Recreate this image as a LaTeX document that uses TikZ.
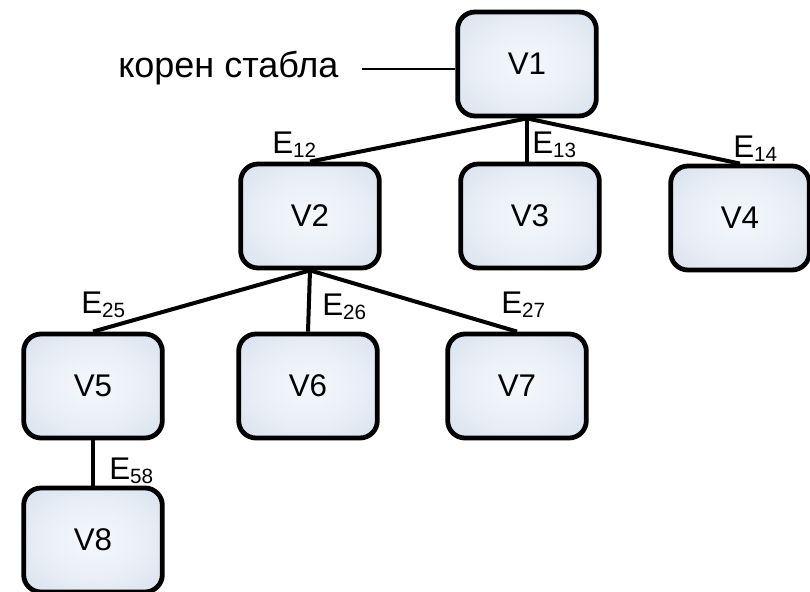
\documentclass[tikz,border=0pt]{standalone}
\usepackage{fontspec}
\setmainfont{Liberation Sans}
\definecolor{boxinner}{RGB}{245,248,252}
\definecolor{boxouter}{RGB}{200,213,230}
\pgfdeclareradialshading{vertexfill}{\pgfpoint{0bp}{0bp}}{%
  color(0bp)=(boxinner); color(18bp)=(boxinner!75!boxouter);
  color(50bp)=(boxouter); color(100bp)=(boxouter)}
\pgfdeclarelayer{background}
\pgfsetlayers{background,main}
\begin{document}
\begin{tikzpicture}[x=0.75pt,y=-0.75pt,
  vertex/.style={draw=black, line width=3.6pt, rounded corners=13pt,
    minimum width=104pt, minimum height=78pt, inner sep=0pt,
    shading=vertexfill, font=\fontsize{23.5}{26}\selectfont},
  edge/.style={line width=3pt},
  elabel/.style={anchor=base west, inner sep=0pt, font=\fontsize{23.5}{26}\selectfont},
  rootlabel/.style={anchor=base west, inner sep=0pt, font=\fontsize{27}{30}\selectfont}]
\newcommand{\esub}[1]{E\raisebox{-3.6pt}{\fontsize{15.5}{15}\selectfont #1}}
\useasboundingbox (0,0) rectangle (810,592);
% vertices
\node[vertex] (v1) at (527,64) {V1};
\node[vertex] (v2) at (310,216) {V2};
\node[vertex] (v3) at (530,216) {V3};
\node[vertex] (v4) at (740,218) {V4};
\node[vertex] (v5) at (93,386) {V5};
\node[vertex] (v6) at (308,386) {V6};
\node[vertex] (v7) at (517,386) {V7};
\node[vertex] (v8) at (93,540) {V8};
% edges, kept behind the vertices
\begin{pgfonlayer}{background}
\draw[edge] (v1.south) -- (v2.north);
\draw[edge] (v1.south) -- (v1.south |- v3.north);
\draw[edge] (v1.south) -- (v4.north);
\draw[edge] (v2.south) -- (v5.north);
\draw[edge] (v2.south) -- (v6.north);
\draw[edge] (v2.south) -- (v7.north);
\draw[edge] (v5.south) -- (v8.north);
\end{pgfonlayer}
% edge labels
\node[elabel] (e12) at (272,153) {\esub{12}};
\node[elabel] (e13) at (532,153) {\esub{13}};
\node[elabel] (e14) at (733,157) {\esub{14}};
\node[elabel] (e25) at (81,313) {\esub{25}};
\node[elabel] (e26) at (322,315) {\esub{26}};
\node[elabel] (e27) at (501,313) {\esub{27}};
\node[elabel] (e58) at (109,479) {\esub{58}};
% root annotation
\node[rootlabel] (root) at (118,78) {корен стабла};
\coordinate (rootend) at (362,69);
\draw[line width=1.5pt] (rootend) -- (rootend -| v1.west);
\end{tikzpicture}
\end{document}
